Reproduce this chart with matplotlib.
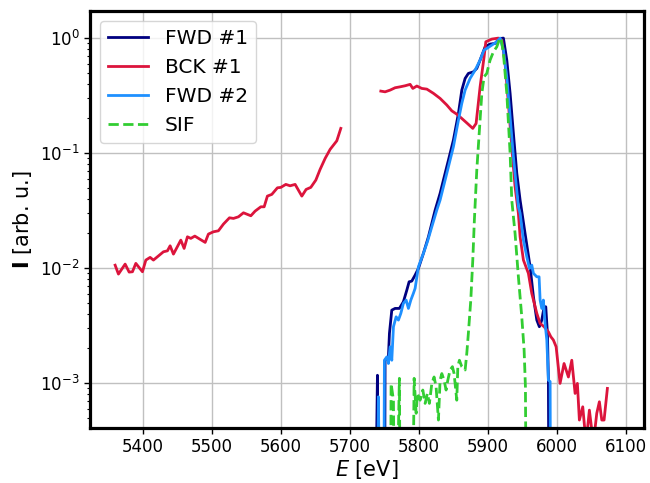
import matplotlib
matplotlib.use("Agg")
import matplotlib.pyplot as plt


# values
lo = 1e-5  # points that drop below the axis

fwd1_e = [5735.2, 5739.6, 5742.0, 5749.7, 5750.7, 5755.5, 5757.0, 5760.4, 5765.2, 5771.4,
          5777.2, 5782.2, 5785.5, 5789.4, 5794.2, 5799.0, 5806.2, 5813.5, 5818.4, 5823.2,
          5830.4, 5835.2, 5842.5, 5849.7, 5857.0, 5861.9, 5866.7, 5871.4, 5878.7, 5883.6,
          5888.4, 5895.7, 5902.9, 5910.1, 5916.4, 5922.2, 5927.1, 5931.9, 5936.7, 5941.6,
          5946.4, 5953.6, 5960.9, 5965.7, 5970.6, 5974.3, 5977.8, 5981.2, 5983.6, 5986.0,
          5987.4, 5988.8]
fwd1_i = [lo, 0.00117, lo, lo, 0.00158, 0.00169, 0.00271, 0.00431, 0.00446, 0.00446,
          0.00509, 0.00644, 0.0076, 0.00771, 0.00869, 0.00994, 0.01342, 0.01871, 0.02448, 0.0319,
          0.0446, 0.0582, 0.0869, 0.1298, 0.2215, 0.353, 0.446, 0.493, 0.509, 0.545,
          0.644, 0.84, 0.887, 0.899, 0.99, 1.0, 0.644, 0.331, 0.148, 0.0666,
          0.039, 0.02, 0.01026, 0.00563, 0.00353, 0.00309, 0.00353, 0.00461, 0.00461, 0.00271,
          0.00106, lo]

bck1_e = [5359.4, 5364.2, 5373.9, 5379.7, 5384.5, 5389.4, 5399.0, 5403.9, 5410.1, 5414.9,
          5429.4, 5435.2, 5439.1, 5443.9, 5454.6, 5459.4, 5464.2, 5469.1, 5474.9, 5482.6,
          5489.9, 5494.6, 5501.9, 5509.1, 5516.4, 5525.1, 5530.9, 5538.1, 5545.4, 5556.1,
          5562.3, 5570.6, 5575.4, 5580.1, 5586.5, 5594.6, 5599.6, 5606.8, 5613.0, 5620.3,
          5630.0, 5636.2, 5643.0, 5650.3, 5656.5, 5663.8, 5671.0, 5680.7, 5686.5]
bck1_i = [0.0106, 0.00887, 0.01083, 0.00923, 0.00929, 0.01099, 0.00929, 0.01174, 0.01239, 0.01174,
          0.01386, 0.01413, 0.01563, 0.01323, 0.01751, 0.01483, 0.01871, 0.01813, 0.01898, 0.01778,
          0.01673, 0.01976, 0.02069, 0.0211, 0.02414, 0.02737, 0.02704, 0.02792, 0.03026, 0.02851,
          0.0313, 0.03412, 0.03412, 0.04227, 0.04375, 0.0499, 0.05034, 0.05343, 0.05196, 0.05343,
          0.04227, 0.04831, 0.05034, 0.05825, 0.07217, 0.08995, 0.1077, 0.1279, 0.164]

bck1b_e = [5744.5, 5750.7, 5758.0, 5765.2, 5772.5, 5779.7, 5787.0, 5790.9, 5796.7, 5803.9,
           5811.2, 5820.7, 5830.4, 5840.1, 5847.4, 5854.6, 5861.9, 5869.1, 5877.8, 5882.6,
           5888.4, 5894.2, 5896.7, 5905.4, 5914.9, 5919.9, 5924.6, 5929.4, 5934.3, 5939.1,
           5943.9, 5946.4, 5951.2, 5958.4, 5963.3, 5970.6, 5975.4, 5981.2, 5987.4, 5990.9,
           5994.6, 5998.6, 6004.3, 6010.1, 6016.4, 6021.3, 6026.1, 6029.4, 6032.3, 6037.2,
           6042.0, 6046.8, 6052.6, 6057.5, 6061.3, 6064.8, 6068.1, 6072.9]
bck1b_i = [0.346, 0.341, 0.353, 0.37, 0.377, 0.385, 0.396, 0.365, 0.383, 0.365,
           0.36, 0.331, 0.299, 0.262, 0.233, 0.218, 0.2, 0.183, 0.164, 0.181,
           0.377, 0.688, 0.929, 0.98, 1.0, 0.961, 0.603, 0.271, 0.1135, 0.0509,
           0.0299, 0.0187, 0.01174, 0.009, 0.00603, 0.00404, 0.0033, 0.00309, 0.00279, 0.00253,
           0.00237, 0.00207, 0.000994, 0.00148, 0.00113, 0.00158, 0.000813, 0.000994, 0.000477, 0.000622,
           0.0003, 0.000582, 0.0003, 0.000546, 0.000688, 0.000477, 0.000477, 0.000899]

fwd2_e = [5738.6, 5741.0, 5744.5, 5748.3, 5749.7, 5753.2, 5755.5, 5758.0, 5760.4, 5762.8,
          5766.7, 5770.0, 5773.5, 5777.2, 5781.2, 5784.5, 5788.0, 5791.7, 5794.2, 5799.0,
          5806.2, 5812.0, 5818.4, 5825.6, 5830.4, 5840.1, 5849.7, 5857.0, 5861.9, 5866.7,
          5873.9, 5881.2, 5888.4, 5894.2, 5898.1, 5905.4, 5912.6, 5917.4, 5922.2, 5927.1,
          5931.9, 5936.7, 5943.9, 5946.4, 5951.2, 5956.1, 5959.9, 5963.3, 5965.7, 5970.6,
          5973.9, 5975.4, 5977.8, 5980.1, 5982.6, 5985.1, 5987.4, 5989.9, 5990.9]
fwd2_i = [lo, 0.00076, lo, lo, 0.00158, 0.00169, 0.00148, 0.00207, 0.00158, 0.00309,
          0.00377, 0.00353, 0.00404, 0.00493, 0.00527, 0.00446, 0.00527, 0.00603, 0.00666, 0.01026,
          0.01342, 0.01694, 0.02286, 0.0319, 0.039, 0.0666, 0.1135, 0.1936, 0.271, 0.353,
          0.446, 0.527, 0.644, 0.787, 0.813, 0.869, 0.929, 1.0, 0.787, 0.461,
          0.207, 0.0929, 0.0341, 0.03, 0.0175, 0.01254, 0.00994, 0.01062, 0.009, 0.0084,
          0.0084, 0.00527, 0.00446, 0.00527, 0.0033, 0.00237, 0.00106, 0.00103, lo]

sif_e = [5758.0, 5759.4, 5762.8, 5765.2, 5771.4, 5773.5, 5789.4, 5792.8, 5795.7, 5797.5,
         5801.4, 5805.4, 5808.7, 5812.0, 5814.9, 5818.4, 5821.7, 5824.6, 5828.0, 5830.4,
         5832.9, 5836.2, 5839.1, 5841.6, 5844.9, 5848.3, 5850.7, 5854.6, 5856.1, 5858.4,
         5861.9, 5866.7, 5869.1, 5871.4, 5874.9, 5877.8, 5880.1, 5883.6, 5887.4, 5890.9,
         5894.2, 5898.1, 5900.4, 5902.9, 5907.7, 5912.6, 5916.4, 5918.8, 5922.2, 5927.1,
         5931.9, 5934.3, 5939.1, 5943.9, 5948.8, 5952.2, 5954.1, 5956.1]
sif_i = [lo, 0.00099, 0.00071, lo, 0.0011, lo, lo, 0.0011, 0.000546, 0.000813,
         0.00071, 0.00087, 0.000666, 0.000813, 0.000666, 0.00099, 0.00113, 0.00093, 0.000477, 0.00106,
         0.00121, 0.00106, 0.00087, 0.00106, 0.0013, 0.00139, 0.00121, 0.00071, 0.00139, 0.00158,
         0.00139, 0.0013, 0.00181, 0.00271, 0.00527, 0.01174, 0.0261, 0.0711, 0.1585, 0.331,
         0.461, 0.493, 0.563, 0.644, 0.76, 0.84, 0.974, 1.0, 0.736, 0.331,
         0.0994, 0.039, 0.02, 0.0084, 0.00377, 0.00194, 0.00093, lo]


fig = plt.figure(figsize=(6.5, 4.83), dpi=100)
ax = fig.add_axes([0.1385, 0.1139, 0.8523, 0.8633])

ax.plot(fwd1_e, fwd1_i, color='navy', lw=2, label='FWD #1')
ax.plot(bck1_e, bck1_i, color='crimson', lw=2, label='BCK #1')
ax.plot(bck1b_e, bck1b_i, color='crimson', lw=2)
ax.plot(fwd2_e, fwd2_i, color='dodgerblue', lw=2, label='FWD #2')
ax.plot(sif_e, sif_i, color='limegreen', lw=2, ls='--', label='SIF')

ax.set_yscale('log')
ax.set_xlim(5323, 6126)
ax.set_ylim(4.07e-4, 1.72)
ax.set_xticks([5400, 5500, 5600, 5700, 5800, 5900, 6000, 6100])

ax.grid(True, which='major', color='#c0c0c0', lw=1)
ax.set_axisbelow(True)

for s in ax.spines.values():
	s.set_linewidth(2.3)

ax.tick_params(which='major', labelsize=12, length=4, width=1)
ax.tick_params(which='minor', length=2.5, width=0.8)

ax.set_xlabel('$E$ [eV]', fontsize=15, labelpad=1)
ax.set_ylabel(r'$\mathbf{I}$ [arb. u.]', fontsize=15)

ax.legend(loc='upper left', fontsize=14.5)

fig.savefig('out.png', dpi=100)
